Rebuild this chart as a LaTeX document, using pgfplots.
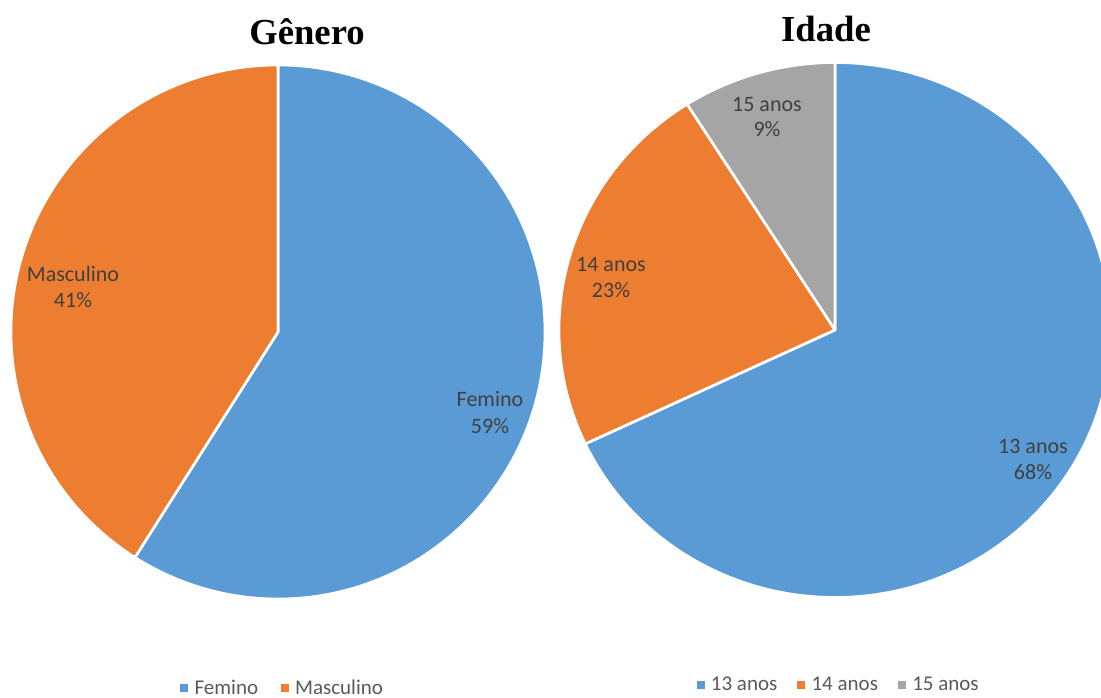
\documentclass[border=0pt]{standalone}
\usepackage{pgfplots}
\pgfplotsset{compat=1.18}
\usepackage{fontspec}
\setmainfont{Carlito}
\newfontfamily\titlefont{Liberation Serif}

\definecolor{pieblue}{HTML}{5B9BD5}
\definecolor{pieorange}{HTML}{ED7D31}
\definecolor{piegray}{HTML}{A5A5A5}
\definecolor{labeltext}{HTML}{404040}
\definecolor{legendtext}{HTML}{595959}

% picture laid out in pixels of the reference, 1px = 0.75pt
\pgfplotsset{
  pieaxis/.style={
    scale only axis, height=523.5pt,
    ymin=0, ymax=698, y dir=reverse,
    hide axis, clip=false,
    legend columns=-1,
    legend image code/.code={\fill[##1, draw=none] (0pt,-3pt) rectangle (6pt,3pt); \path (8.5pt,0pt);},
    legend style={draw=none, fill=none, text=legendtext,
      font=\fontsize{15.75}{19}\selectfont},
  },
}
\tikzset{
  lbl/.style={font=\fontsize{16.5}{20}\selectfont, text=labeltext, anchor=base},
  ttl/.style={font=\titlefont\bfseries\fontsize{27.5}{32}\selectfont, anchor=base},
}

\begin{document}
\begin{tikzpicture}
% shares in percent, turned into angles (clockwise from 12 o'clock)
\pgfmathsetmacro\gA{90-3.6*59}        % Femino 59
\pgfmathsetmacro\gB{\gA-3.6*41}       % Masculino 41
\pgfmathsetmacro\iA{90-3.6*68}        % 13 anos 68
\pgfmathsetmacro\iB{\iA-3.6*23}       % 14 anos 23
\pgfmathsetmacro\iC{\iB-3.6*9}        % 15 anos 9

% ---- Genero
\begin{axis}[pieaxis, width=413.25pt, xmin=0, xmax=551,
  legend style={at={(axis cs:283,688)}, anchor=center,
    /tikz/every even column/.append style={column sep=15pt}}]
  \addlegendimage{fill=pieblue}\addlegendentry{Femino}
  \addlegendimage{fill=pieorange}\addlegendentry{Masculino}
  \fill[pieblue, draw=white, line width=2pt, line join=round]
    (axis cs:278,332) -- ++(90:200.25pt) arc[start angle=90, end angle=\gA, radius=200.25pt] -- cycle;
  \fill[pieorange, draw=white, line width=2pt, line join=round]
    (axis cs:278,332) -- ++(\gA:200.25pt) arc[start angle=\gA, end angle=\gB, radius=200.25pt] -- cycle;
  \node[ttl] at (axis cs:307,45) {Gênero};
  \node[lbl] at (axis cs:73,282) {Masculino};
  \node[lbl] at (axis cs:73,308) {41\%};
  \node[lbl] at (axis cs:490,407) {Femino};
  \node[lbl] at (axis cs:490,434) {59\%};
\end{axis}

% ---- Idade
\begin{axis}[pieaxis, at={(413.25pt,0)}, anchor=south west,
  width=412.5pt, xmin=551, xmax=1101,
  legend style={at={(axis cs:839,685)}, anchor=center,
    /tikz/every even column/.append style={column sep=13pt}}]
  \addlegendimage{fill=pieblue}\addlegendentry{13 anos}
  \addlegendimage{fill=pieorange}\addlegendentry{14 anos}
  \addlegendimage{fill=piegray}\addlegendentry{15 anos}
  \fill[pieblue, draw=white, line width=2pt, line join=round]
    (axis cs:835,330) -- ++(90:207pt and 200.6pt)
    arc[start angle=90, end angle=\iA, x radius=207pt, y radius=200.6pt] -- cycle;
  \fill[pieorange, draw=white, line width=2pt, line join=round]
    (axis cs:835,330) -- ++(\iA:207pt and 200.6pt)
    arc[start angle=\iA, end angle=\iB, x radius=207pt, y radius=200.6pt] -- cycle;
  \fill[piegray, draw=white, line width=2pt, line join=round]
    (axis cs:835,330) -- ++(\iB:207pt and 200.6pt)
    arc[start angle=\iB, end angle=\iC, x radius=207pt, y radius=200.6pt] -- cycle;
  \node[ttl] at (axis cs:826,42) {Idade};
  \node[lbl] at (axis cs:767,112) {15 anos};
  \node[lbl] at (axis cs:767,137) {9\%};
  \node[lbl] at (axis cs:611,272) {14 anos};
  \node[lbl] at (axis cs:611,298) {23\%};
  \node[lbl] at (axis cs:1033,454) {13 anos};
  \node[lbl] at (axis cs:1033,480) {68\%};
\end{axis}

\pgfresetboundingbox
\useasboundingbox (0,0) rectangle (825.75pt,523.5pt);
\end{tikzpicture}
\end{document}
